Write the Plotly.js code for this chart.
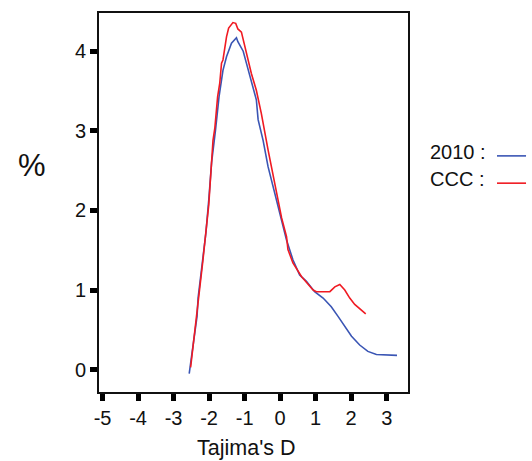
<!DOCTYPE html>
<html>
<head>
<meta charset="utf-8">
<script src="https://cdn.plot.ly/plotly-3.0.1.min.js"></script>
<style>html,body{margin:0;padding:0;background:#fff;}#chart{width:532px;height:461px;}</style>
</head>
<body>
<div id="chart"></div>
<script>
// Tajima's D distribution (%)
const seriesNames = ["2010", "CCC"];
const seriesColors = ["#3a55b4", "#f01a22"];

const x2010 = [-2.56, -2.34, -2.31, -2.17, -2.09, -2.01, -1.93, -1.82, -1.72, -1.61, -1.51, -1.37, -1.27, -1.23, -1.19, -1.04, -0.95, -0.86, -0.76, -0.67, -0.62, -0.48, -0.34, -0.10, 0.04, 0.18, 0.36, 0.55, 0.74, 0.97, 1.21, 1.44, 1.63, 1.82, 2.01, 2.24, 2.47, 2.71, 3.29];
const y2010 = [-0.05, 0.67, 0.90, 1.38, 1.72, 2.13, 2.60, 3.01, 3.43, 3.76, 3.93, 4.10, 4.15, 4.17, 4.12, 4.00, 3.85, 3.71, 3.55, 3.39, 3.14, 2.88, 2.55, 2.13, 1.88, 1.63, 1.38, 1.19, 1.11, 0.98, 0.90, 0.79, 0.67, 0.54, 0.42, 0.31, 0.23, 0.19, 0.18];

const xCCC = [-2.52, -2.35, -2.18, -2.01, -1.89, -1.84, -1.76, -1.70, -1.65, -1.61, -1.56, -1.51, -1.45, -1.38, -1.33, -1.25, -1.19, -1.09, -0.95, -0.81, -0.67, -0.53, -0.34, -0.15, 0.04, 0.18, 0.22, 0.36, 0.60, 0.83, 0.93, 1.02, 1.40, 1.54, 1.68, 1.82, 1.96, 2.10, 2.29, 2.41];
const yCCC = [0.03, 0.68, 1.35, 2.07, 2.88, 3.03, 3.43, 3.60, 3.85, 3.89, 4.05, 4.18, 4.29, 4.34, 4.36, 4.35, 4.28, 4.24, 3.98, 3.72, 3.51, 3.22, 2.76, 2.35, 1.91, 1.67, 1.51, 1.34, 1.17, 1.05, 1.00, 0.98, 0.98, 1.04, 1.07, 1.00, 0.90, 0.82, 0.75, 0.70];

const xTicks = [-5, -4, -3, -2, -1, 0, 1, 2, 3];
const yTicks = [0, 1, 2, 3, 4];

const fontFam = "Liberation Sans, Arial, sans-serif";

const traces = [
  {x: x2010, y: y2010, name: seriesNames[0], type: "scatter", mode: "lines",
   line: {color: seriesColors[0], width: 1.6}},
  {x: xCCC, y: yCCC, name: seriesNames[1], type: "scatter", mode: "lines",
   line: {color: seriesColors[1], width: 1.6}}
];

const legendY = [0.623, 0.551];
const annotations = [
  {text: "%", xref: "paper", yref: "paper", x: -0.218, y: 0.597, showarrow: false,
   xanchor: "center", yanchor: "middle", font: {family: fontFam, size: 31, color: "#111"}},
  {text: "Tajima's D", xref: "paper", yref: "paper", x: 0.476, y: -0.112, showarrow: false,
   xanchor: "center", yanchor: "top", font: {family: fontFam, size: 21.5, color: "#111"}}
];
const shapes = [];
seriesNames.forEach((n, i) => {
  annotations.push({text: n + " :", xref: "paper", yref: "paper", x: 1.066, y: legendY[i] + 0.01,
    showarrow: false, xanchor: "left", yanchor: "middle", font: {family: fontFam, size: 20, color: "#111"}});
  shapes.push({type: "line", xref: "paper", yref: "paper", x0: 1.288, x1: 1.382, y0: legendY[i], y1: legendY[i],
    line: {color: seriesColors[i], width: 1.6}});
});

const layout = {
  width: 532, height: 461,
  margin: {l: 99, r: 124, t: 13, b: 69},
  paper_bgcolor: "#fff", plot_bgcolor: "#fff",
  showlegend: false,
  font: {family: fontFam, size: 20, color: "#111"},
  xaxis: {
    range: [-5.1, 3.6], tickvals: xTicks, ticktext: xTicks.map(String),
    showgrid: false, zeroline: false,
    showline: true, mirror: true, linecolor: "#111", linewidth: 2,
    ticks: "outside", ticklen: 7, tickwidth: 5, tickcolor: "#000",
    tickfont: {family: fontFam, size: 20, color: "#111"}
  },
  yaxis: {
    range: [-0.28, 4.48], tickvals: yTicks, ticktext: yTicks.map(String),
    showgrid: false, zeroline: false,
    showline: true, mirror: true, linecolor: "#111", linewidth: 2,
    ticks: "outside", ticklen: 7, tickwidth: 5, tickcolor: "#000",
    tickfont: {family: fontFam, size: 20, color: "#111"}
  },
  annotations: annotations,
  shapes: shapes
};

Plotly.newPlot("chart", traces, layout, {displayModeBar: false, staticPlot: true});
</script>
</body>
</html>
